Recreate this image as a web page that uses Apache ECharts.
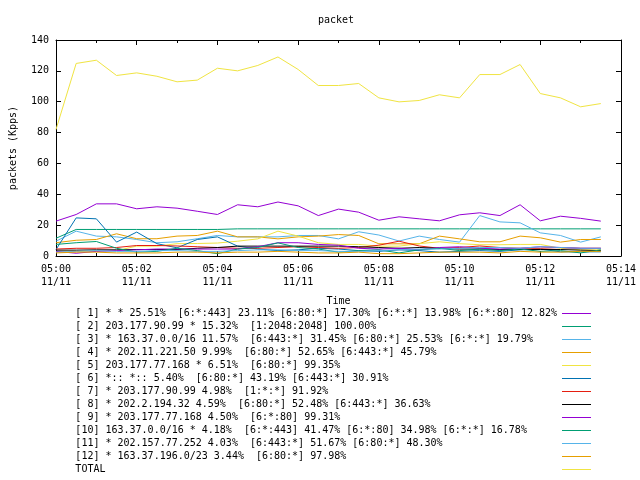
<!DOCTYPE html>
<html>
<head>
<meta charset="utf-8">
<script src="https://cdn.jsdelivr.net/npm/echarts@6/dist/echarts.min.js"></script>
<style>html,body{margin:0;padding:0;background:#fff;}#c{width:640px;height:480px;}</style>
</head>
<body>
<div id="c"></div>
<script>
var times = ['05:00:00','05:00:30','05:01:00','05:01:30','05:02:00','05:02:30','05:03:00','05:03:30',
  '05:04:00','05:04:30','05:05:00','05:05:30','05:06:00','05:06:30','05:07:00','05:07:30',
  '05:08:00','05:08:30','05:09:00','05:09:30','05:10:00','05:10:30','05:11:00','05:11:30',
  '05:12:00','05:12:30','05:13:00','05:13:30'];

var seriesNames = [
  '[ 1] * * 25.51%  [6:*:443] 23.11% [6:80:*] 17.30% [6:*:*] 13.98% [6:*:80] 12.82%',
  '[ 2] 203.177.90.99 * 15.32%  [1:2048:2048] 100.00%',
  '[ 3] * 163.37.0.0/16 11.57%  [6:443:*] 31.45% [6:80:*] 25.53% [6:*:*] 19.79%',
  '[ 4] * 202.11.221.50 9.99%  [6:80:*] 52.65% [6:443:*] 45.79%',
  '[ 5] 203.177.77.168 * 6.51%  [6:80:*] 99.35%',
  '[ 6] *:: *:: 5.40%  [6:80:*] 43.19% [6:443:*] 30.91%',
  '[ 7] * 203.177.90.99 4.98%  [1:*:*] 91.92%',
  '[ 8] * 202.2.194.32 4.59%  [6:80:*] 52.48% [6:443:*] 36.63%',
  '[ 9] * 203.177.77.168 4.50%  [6:*:80] 99.31%',
  '[10] 163.37.0.0/16 * 4.18%  [6:*:443] 41.47% [6:*:80] 34.98% [6:*:*] 16.78%',
  '[11] * 202.157.77.252 4.03%  [6:443:*] 51.67% [6:80:*] 48.30%',
  '[12] * 163.37.196.0/23 3.44%  [6:80:*] 97.98%',
  'TOTAL'
];

var s1  = [22.6,26.9,33.8,33.8,30.6,31.9,31.0,29.0,26.9,33.2,31.9,35.0,32.5,26.2,30.4,28.4,23.2,25.4,24.1,22.8,26.7,28.0,26.2,33.2,22.8,25.8,24.4,22.6];
var s2  = [11.5,17.2,17.2,17.2,17.2,17.2,17.2,17.2,17.2,17.6,17.6,17.6,17.6,17.6,17.6,17.6,17.6,17.6,17.6,17.6,17.6,17.6,17.6,17.6,17.6,17.6,17.6,17.6];
var s3  = [9.6,16.1,12.9,12.4,10.7,8.6,9.2,11.2,13.3,12.4,12.4,12.4,13.3,13.3,11.1,15.7,13.6,9.7,12.9,10.7,9.0,26.2,22.1,21.5,15.0,13.3,9.0,12.4];
var s4  = [8.6,10.2,10.7,14.4,11.2,11.2,12.9,13.3,16.1,12.4,12.4,11.1,12.4,12.9,13.9,13.3,7.9,7.9,7.9,12.9,11.1,9.2,9.2,12.9,11.8,9.0,10.7,10.7];
var s5  = [3.0,3.0,3.2,3.5,6.4,6.4,8.0,8.1,8.4,9.6,11.1,16.1,12.9,8.6,7.5,7.5,6.4,6.4,8.0,9.2,8.0,7.3,7.3,7.5,7.5,5.0,4.0,4.0];
var s6  = [4.2,24.7,24.1,9.0,15.5,8.0,5.3,10.7,12.4,6.4,4.5,3.5,4.0,5.0,4.5,3.5,3.0,4.0,3.5,2.5,3.0,3.5,3.0,4.0,4.5,2.7,2.7,2.7];
var s7  = [4.5,5.0,5.0,5.5,6.8,6.8,6.5,6.0,5.5,5.0,5.0,5.5,6.0,5.5,5.0,5.5,7.0,9.6,6.5,5.0,5.5,6.5,5.5,5.0,5.0,5.5,5.0,5.0];
var s8  = [3.8,3.8,4.0,4.0,4.2,4.2,4.2,5.0,5.5,6.4,6.4,6.4,6.4,6.4,6.4,6.0,5.5,5.0,5.5,5.0,4.5,4.5,4.2,4.2,4.2,4.2,3.8,3.5];
var s9  = [3.0,1.8,3.0,3.5,4.0,4.5,4.5,4.5,4.5,4.5,6.0,8.6,8.6,7.5,7.0,5.0,4.5,5.0,4.0,5.5,6.0,5.0,4.5,5.0,6.0,5.5,5.0,5.0];
var s10 = [7.5,8.6,9.4,5.0,2.5,3.0,5.0,3.5,1.5,4.5,5.5,8.5,5.5,4.5,2.5,3.5,4.0,2.0,4.0,5.0,3.5,4.5,3.5,4.5,3.0,3.5,2.0,4.0];
var s11 = [2.5,3.0,3.5,3.0,3.0,3.5,3.5,3.0,3.0,3.5,4.0,4.0,3.5,3.5,3.0,3.0,3.5,4.0,4.5,4.5,5.0,5.5,5.5,5.0,6.0,5.5,5.0,5.0];
var s12 = [2.0,2.5,2.5,2.0,2.0,2.0,2.5,2.5,2.0,2.5,2.5,3.0,2.5,2.0,2.0,2.5,1.5,1.5,2.0,2.5,2.5,2.5,2.0,3.0,2.5,2.5,3.0,3.0];
var total = [82.0,124.8,126.9,117.0,118.7,116.5,112.9,114.0,121.7,120.0,123.5,129.0,120.9,110.5,110.5,111.8,102.5,99.9,100.8,104.5,102.5,117.6,117.6,124.1,105.3,102.5,96.7,98.8];

var allValues = [s1,s2,s3,s4,s5,s6,s7,s8,s9,s10,s11,s12,total];
var colors = ['#9400d3','#009e73','#56b4e9','#e69f00','#f0e442','#0072b2','#e51e10','#000000',
              '#9400d3','#009e73','#56b4e9','#e69f00','#f0e442'];
var xTicks = ['05:00','05:02','05:04','05:06','05:08','05:10','05:12','05:14'];
var dateLabel = '11/11';

function toMin(t){ var p = t.split(':'); return (+p[0]-5)*60 + (+p[1]) + (+p[2])/60; }
var xs = times.map(toMin);

var FONT = 'DejaVu Sans Mono';
var series = allValues.map(function(vals, k){
  return {
    name: seriesNames[k], type: 'line', symbol: 'none', showSymbol: false,
    xAxisIndex: 0, yAxisIndex: 0,
    lineStyle: {width: 1, color: colors[k]}, itemStyle: {color: colors[k]},
    data: vals.map(function(v, i){ return [xs[i], v]; })
  };
});

var chart = echarts.init(document.getElementById('c'), null, {renderer: 'canvas'});
var axisLineStyle = {show: true, onZero: false, lineStyle: {color: '#000', width: 1}};
chart.setOption({
  animation: false,
  backgroundColor: '#fff',
  textStyle: {fontFamily: FONT, fontSize: 10, color: '#000'},
  title: {text: 'packet', left: 336, top: 14, textAlign: 'center', padding: 0,
          textStyle: {fontFamily: FONT, fontSize: 10, fontWeight: 'normal', color: '#000', lineHeight: 12}},
  grid: {left: 52, top: 40, width: 569, height: 216},
  xAxis: [{
    type: 'value', min: 0, max: 14, interval: 2, position: 'bottom',
    name: 'Time', nameLocation: 'middle', nameGap: 40,
    nameTextStyle: {fontFamily: FONT, fontSize: 10, color: '#000'},
    axisLine: axisLineStyle,
    axisTick: {show: true, inside: true, length: 5, lineStyle: {color: '#000'}},
    minorTick: {show: true, splitNumber: 2, length: 3, lineStyle: {color: '#000'}},
    splitLine: {show: false},
    axisLabel: {margin: 7, fontFamily: FONT, fontSize: 10, color: '#000', lineHeight: 13,
      formatter: function(v){ return xTicks[Math.round(v/2)] + '\n' + dateLabel; }}
  }, {
    type: 'value', min: 0, max: 14, interval: 2, position: 'top',
    axisLine: axisLineStyle,
    axisTick: {show: true, inside: true, length: 5, lineStyle: {color: '#000'}},
    minorTick: {show: true, splitNumber: 2, length: 3, lineStyle: {color: '#000'}},
    splitLine: {show: false}, axisLabel: {show: false}
  }],
  yAxis: [{
    type: 'value', min: 0, max: 140, interval: 20, position: 'left',
    name: 'packets (Kpps)', nameLocation: 'middle', nameGap: 38, nameRotate: 90,
    nameTextStyle: {fontFamily: FONT, fontSize: 10, color: '#000'},
    axisLine: axisLineStyle,
    axisTick: {show: true, inside: true, length: 5, lineStyle: {color: '#000'}},
    splitLine: {show: false},
    axisLabel: {margin: 7, fontFamily: FONT, fontSize: 10, color: '#000'}
  }, {
    type: 'value', min: 0, max: 140, interval: 20, position: 'right',
    axisLine: axisLineStyle,
    axisTick: {show: true, inside: true, length: 5, lineStyle: {color: '#000'}},
    splitLine: {show: false}, axisLabel: {show: false}
  }],
  legend: {
    orient: 'vertical', right: 49, top: 307, padding: 0, height: 175,
    align: 'right', icon: 'rect', itemWidth: 29, itemHeight: 1, itemGap: 0,
    selectedMode: false,
    textStyle: {fontFamily: FONT, fontSize: 10, color: '#000', lineHeight: 13},
    formatter: function(name){ var s = name; while (s.length < 80) s += ' '; return s; },
    data: seriesNames
  },
  series: series
});
</script>
</body>
</html>
